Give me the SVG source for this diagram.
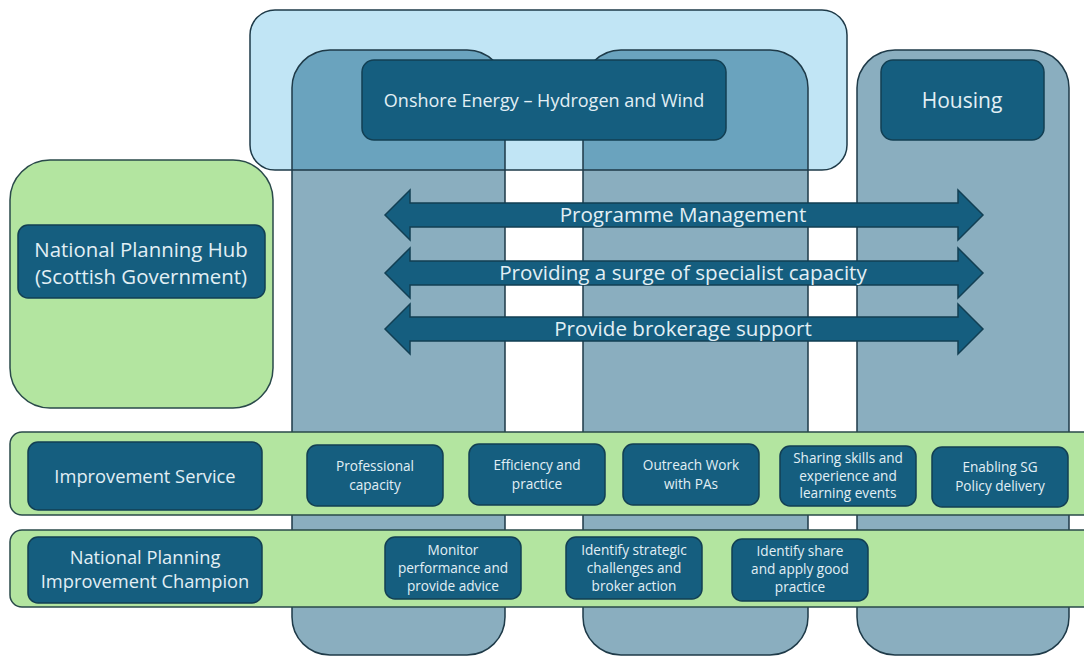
<svg xmlns="http://www.w3.org/2000/svg" width="1084" height="657" viewBox="0 0 1084 657">
<style>
.st{stroke:#1e3a48;stroke-width:1.5}
.dk{fill:#155e7f;stroke:#123f53;stroke-width:1.5}
.col{fill:#8aaebf}
.colov{fill:#6aa3be}
.gr{fill:#b3e5a0;stroke:#2a4a4a;stroke-width:1.5}
text{font-family:"Open Sans","Liberation Sans",sans-serif;fill:#e2eff5;text-anchor:middle}
.t13{font-size:13.6px}
.t17{font-size:18.3px}
.t19{font-size:20.4px}
.ar{font-size:20.6px}
</style>
<defs>
<clipPath id="lbclip"><rect x="250" y="10" width="597" height="160" rx="25"/></clipPath>
<path id="arrow" d="M0,0 L25,-25 L25,-12 L573,-12 L573,-25 L598,0 L573,25 L573,12 L25,12 L25,25 Z"/>
</defs>
<rect width="1084" height="657" fill="#fff"/>
<g id="onshore-area">
<rect x="250" y="10" width="597" height="160" rx="25" fill="#c1e5f5"/>
</g>
<g id="columns">
<rect class="col" x="292" y="50" width="213" height="605" rx="38"/>
<rect class="col" x="583" y="50" width="225" height="605" rx="38"/>
<rect class="col" x="857" y="50" width="212" height="605" rx="38"/>
<g clip-path="url(#lbclip)">
<rect class="colov" x="292" y="50" width="213" height="605" rx="38"/>
<rect class="colov" x="583" y="50" width="225" height="605" rx="38"/>
</g>
<rect x="250" y="10" width="597" height="160" rx="25" fill="none" class="st"/>
<rect x="292" y="50" width="213" height="605" rx="38" fill="none" class="st"/>
<rect x="583" y="50" width="225" height="605" rx="38" fill="none" class="st"/>
<rect x="857" y="50" width="212" height="605" rx="38" fill="none" class="st"/>
</g>
<g id="onshore">
<rect class="dk" x="362" y="60" width="364" height="80" rx="12"/>
<text x="544" y="107" style="font-size:18px">Onshore Energy – Hydrogen and Wind</text>
</g>
<g id="housing">
<rect class="dk" x="881" y="60" width="163" height="80" rx="12"/>
<text x="962" y="108" style="font-size:21px">Housing</text>
</g>
<g id="hub">
<rect class="gr" x="10" y="160" width="263" height="248" rx="40"/>
<rect class="dk" x="18" y="225" width="247" height="73" rx="10"/>
<text x="141" y="257" class="t19">National Planning Hub</text>
<text x="141" y="284" class="t19">(Scottish Government)</text>
</g>
<g id="connectors">
<use href="#arrow" x="385" y="215" class="dk"/>
<use href="#arrow" x="385" y="273" class="dk"/>
<use href="#arrow" x="385" y="329" class="dk"/>
<text x="683" y="222" class="ar">Programme Management</text>
<text x="683" y="280" class="ar">Providing a surge of specialist capacity</text>
<text x="683" y="336" class="ar">Provide brokerage support</text>
</g>
<g id="improvement-service">
<rect class="gr" x="10" y="432" width="1085" height="83" rx="12"/>
<rect class="dk" x="28" y="442" width="234" height="68" rx="10"/>
<text x="145" y="483" class="t17">Improvement Service</text>
</g>
<g id="professional-capacity">
<rect class="dk" x="307" y="445" width="136" height="61" rx="10"/>
<text x="375" y="471" class="t13">Professional</text>
<text x="375" y="490" class="t13">capacity</text>
</g>
<g id="efficiency">
<rect class="dk" x="469" y="444" width="136" height="61" rx="10"/>
<text x="537" y="470" class="t13">Efficiency and</text>
<text x="537" y="489" class="t13">practice</text>
</g>
<g id="outreach">
<rect class="dk" x="623" y="444" width="136" height="61" rx="10"/>
<text x="691" y="470" class="t13">Outreach Work</text>
<text x="691" y="489" class="t13">with PAs</text>
</g>
<g id="sharing">
<rect class="dk" x="780" y="446" width="136" height="60" rx="10"/>
<text x="848" y="463" class="t13">Sharing skills and</text>
<text x="848" y="481" class="t13">experience and</text>
<text x="848" y="498" class="t13">learning events</text>
</g>
<g id="enabling">
<rect class="dk" x="932" y="447" width="136" height="60" rx="10"/>
<text x="1000" y="472" class="t13">Enabling SG</text>
<text x="1000" y="491" class="t13">Policy delivery</text>
</g>
<g id="champion-row">
<rect class="gr" x="10" y="530" width="1085" height="77" rx="12"/>
<rect class="dk" x="28" y="537" width="234" height="66" rx="10"/>
<text x="145" y="564" class="t17">National Planning</text>
<text x="145" y="588" class="t17">Improvement Champion</text>
</g>
<g id="monitor">
<rect class="dk" x="385" y="537" width="136" height="62" rx="10"/>
<text x="453" y="555" class="t13">Monitor</text>
<text x="453" y="573" class="t13">performance and</text>
<text x="453" y="591" class="t13">provide advice</text>
</g>
<g id="identify-strategic">
<rect class="dk" x="566" y="537" width="136" height="62" rx="10"/>
<text x="634" y="555" class="t13">Identify strategic</text>
<text x="634" y="573" class="t13">challenges and</text>
<text x="634" y="591" class="t13">broker action</text>
</g>
<g id="identify-share">
<rect class="dk" x="732" y="539" width="136" height="62" rx="10"/>
<text x="800" y="556" class="t13">Identify share</text>
<text x="800" y="574" class="t13">and apply good</text>
<text x="800" y="592" class="t13">practice</text>
</g>
</svg>
